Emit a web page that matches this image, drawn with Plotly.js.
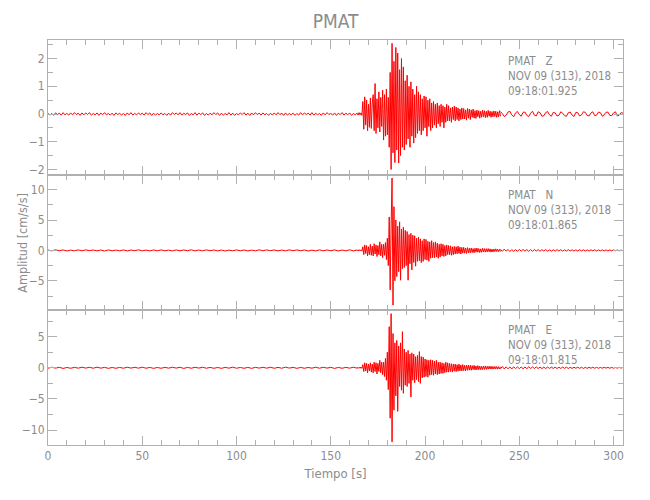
<!DOCTYPE html>
<html>
<head>
<meta charset="utf-8">
<script src="https://cdn.plot.ly/plotly-3.0.1.min.js"></script>
<style>html,body{margin:0;padding:0;background:#fff;}#chart{width:650px;height:500px;}</style>
</head>
<body>
<div id="chart"></div>
<script>
// ---- Data ----
var stationName = 'PMAT';
var components = ['Z', 'N', 'E'];
var dateLabel = 'NOV 09 (313), 2018';
var startTimes = ['09:18:01.925', '09:18:01.865', '09:18:01.815'];

// segment sampling (seconds): quiet / active / tail
var zSteps = [1, 0.5, 1];
var nSteps = [2, 0.5, 1];
var eSteps = [2, 0.5, 1];
var segStarts = [0, 164, 240];

// Z component [cm/s/s]
var zQuiet = [0.03,-0.04,0.02,-0.05,0.04,-0.02,0.03,-0.04,0.05,-0.03,
  0.02,-0.04,0.04,-0.03,0.05,-0.02,0.03,-0.05,0.04,-0.03,
  0.04,-0.02,0.05,-0.04,0.02,-0.03,0.04,-0.05,0.03,-0.02,
  0.05,-0.03,0.02,-0.04,0.03,-0.05,0.04,-0.02,0.03,-0.04,
  0.02,-0.05,0.04,-0.03,0.05,-0.04,0.02,-0.03,0.04,-0.02,
  0.03,-0.04,0.05,-0.02,0.04,-0.05,0.03,-0.04,0.02,-0.03,
  0.04,-0.03,0.02,-0.05,0.03,-0.04,0.05,-0.02,0.04,-0.03,
  0.05,-0.04,0.03,-0.02,0.04,-0.05,0.02,-0.03,0.05,-0.04,
  0.03,-0.02,0.04,-0.05,0.02,-0.04,0.03,-0.03,0.05,-0.02,
  0.04,-0.05,0.03,-0.04,0.02,-0.03,0.05,-0.04,0.03,-0.05,
  0.02,-0.03,0.04,-0.02,0.05,-0.04,0.03,-0.05,0.04,-0.03,
  0.05,-0.02,0.03,-0.04,0.04,-0.03,0.02,-0.05,0.03,-0.04,
  0.04,-0.03,0.05,-0.02,0.03,-0.05,0.04,-0.04,0.02,-0.03,
  0.03,-0.05,0.02,-0.04,0.05,-0.03,0.04,-0.02,0.03,-0.04,
  0.05,-0.04,0.03,-0.03,0.02,-0.05,0.04,-0.03,0.05,-0.02,
  0.02,-0.04,0.04,-0.05,0.03,-0.02,0.05,-0.04,0.03,-0.03,
  0.04,-0.05,0.02,-0.03,0.04];
var zActive = [0.03,-0.04,0.05,-0.03,0.04,-0.05,
  0.45,-0.55,0.62,-0.4,0.5,-0.6,0.35,-0.48,0.58,-0.52,0.4,
  0.7,-0.6,1.1,-0.7,0.55,-0.5,0.8,-0.65,0.6,-0.45,
  0.86,-0.94,0.7,-0.8,0.9,-0.75,0.6,-1.2,
  1.5,-2.0,2.55,-1.4,1.9,-1.75,
  2.4,-1.3,2.2,-1.77,1.6,-1.5,2.0,-1.2,
  1.7,-1.3,1.2,-1.1,1.4,-0.9,1.0,-1.2,
  1.16,-0.8,0.9,-1.05,0.7,-0.85,1.0,-0.7,
  0.8,-0.6,0.7,-0.75,0.55,-0.6,0.65,-0.5,
  0.62,-0.8,0.5,-0.45,0.55,-0.6,0.4,-0.5,
  0.45,-0.4,0.35,-0.5,0.4,-0.35,0.3,-0.45,
  0.35,-0.3,0.3,-0.5,0.25,-0.3,0.35,-0.25,
  0.3,-0.25,0.22,-0.3,0.25,-0.2,0.28,-0.25,
  0.25,-0.2,0.22,-0.25,0.18,-0.2,0.22,-0.18,
  0.2,-0.18,0.15,-0.22,0.2,-0.15,0.18,-0.2,
  0.15,-0.12,0.18,-0.15,0.12,-0.16,0.14,-0.1,
  0.12,-0.15,0.1,-0.12,0.14,-0.1,0.12,-0.13,
  0.1,-0.12,0.13,-0.08,0.1,-0.12,0.09,-0.1,
  0.11,-0.09,0.1,-0.12,0.08,-0.1,0.12,-0.08];
var zTail = [0.08,0.02,-0.09,-0.05,0.07,0.1,-0.03,-0.1,0.04,0.09,-0.02,
  -0.08,0.06,0.07,-0.05,-0.09,0.03,0.1,-0.04,-0.07,0.08,0.05,
  -0.08,-0.06,0.05,0.09,-0.03,-0.08,0.06,0.04,-0.07,-0.05,0.08,
  0.03,-0.06,-0.08,0.05,0.07,-0.04,-0.09,0.06,0.05,-0.07,-0.03,
  0.08,0.06,-0.05,-0.07,0.04,0.08,-0.06,-0.04,0.07,0.05,-0.08,
  -0.03,0.06,0.07,-0.05,-0.06,0.04,0.08,-0.07,-0.04,0.05,0.03];

// N component
var nQuiet = [0.06,-0.08,0.1,-0.05,0.07,-0.09,0.05,-0.07,0.08,-0.06,
  0.09,-0.05,0.07,-0.08,0.06,-0.1,0.08,-0.06,0.05,-0.07,
  0.08,-0.09,0.06,-0.05,0.1,-0.07,0.05,-0.08,0.07,-0.06,
  0.09,-0.07,0.05,-0.09,0.08,-0.06,0.07,-0.05,0.1,-0.08,
  0.06,-0.07,0.09,-0.05,0.07,-0.08,0.06,-0.1,0.05,-0.07,
  0.08,-0.06,0.07,-0.09,0.05,-0.07,0.1,-0.06,0.08,-0.05,
  0.07,-0.08,0.06,-0.07,0.09,-0.05,0.08,-0.06,0.07,-0.1,
  0.05,-0.08,0.09,-0.06,0.07,-0.05,0.08,-0.09,0.06,-0.07,
  0.1,-0.08,0.07];
var nActive = [0.08,-0.1,0.12,-0.08,0.1,-0.12,
  0.6,-0.7,0.9,-0.5,0.8,-0.9,0.6,-0.7,1.0,-0.8,0.7,
  -0.9,1.1,-0.6,0.9,-1.0,0.8,-0.7,1.4,-0.9,1.0,
  -1.2,1.0,-0.8,1.3,-1.5,2.0,-2.5,5.5,
  -6.5,4.0,11.9,-9.0,7.2,-5.0,
  5.0,-4.3,4.0,-3.5,4.7,-4.9,3.5,-3.0,
  3.8,-2.8,3.3,-2.5,3.1,-4.9,2.6,-2.2,
  2.8,-3.2,2.5,-2.0,2.4,-2.6,2.0,-1.8,
  2.2,-1.7,1.9,-2.0,1.6,-1.8,1.9,-1.5,
  1.8,-1.6,1.5,-1.8,1.4,-1.3,1.6,-1.2,
  1.3,-1.2,1.4,-1.1,1.2,-1.3,1.0,-1.1,
  1.1,-0.9,1.0,-1.0,0.8,-0.9,0.9,-0.7,
  0.8,-0.7,0.75,-0.8,0.6,-0.7,0.65,-0.6,
  0.6,-0.55,0.7,-0.5,0.55,-0.6,0.5,-0.45,
  0.5,-0.45,0.4,-0.5,0.45,-0.4,0.35,-0.4,
  0.4,-0.35,0.3,-0.4,0.35,-0.3,0.4,-0.3,
  0.3,-0.35,0.25,-0.3,0.35,-0.25,0.3,-0.28,
  0.28,-0.25,0.3,-0.22,0.25,-0.28,0.2,-0.25,
  0.22,-0.2,0.25,-0.18,0.2,-0.22,0.18,-0.2];
var nTail = [0.18,-0.15,0.2,-0.12,0.16,-0.18,0.14,-0.16,0.12,-0.15,0.17,
  -0.13,0.15,-0.12,0.14,-0.16,0.12,-0.14,0.15,-0.11,0.13,-0.14,
  0.12,-0.1,0.14,-0.12,0.11,-0.13,0.1,-0.12,0.13,-0.1,0.11,
  -0.12,0.1,-0.11,0.12,-0.09,0.1,-0.11,0.09,-0.1,0.11,-0.08,
  0.1,-0.09,0.08,-0.1,0.09,-0.08,0.1,-0.09,0.08,-0.07,0.09,
  -0.08,0.07,-0.09,0.08,-0.07,0.08,-0.06,0.07,-0.08,0.06,-0.07];

// E component
var eQuiet = [-0.07,0.09,-0.06,0.08,-0.1,0.05,-0.08,0.07,-0.06,0.09,
  -0.05,0.08,-0.07,0.1,-0.06,0.07,-0.09,0.05,-0.08,0.06,
  -0.07,0.09,-0.05,0.08,-0.06,0.1,-0.07,0.06,-0.09,0.05,
  -0.08,0.07,-0.06,0.09,-0.05,0.08,-0.1,0.06,-0.07,0.08,
  -0.05,0.09,-0.07,0.06,-0.08,0.05,-0.09,0.07,-0.06,0.1,
  -0.07,0.05,-0.08,0.06,-0.09,0.07,-0.05,0.08,-0.06,0.09,
  -0.08,0.06,-0.07,0.1,-0.05,0.07,-0.09,0.06,-0.08,0.05,
  -0.06,0.09,-0.07,0.08,-0.05,0.07,-0.1,0.06,-0.08,0.07,
  -0.06,0.09,-0.07];
var eActive = [0.08,-0.1,0.1,-0.08,0.12,-0.1,
  0.5,-0.6,0.8,-0.5,0.7,-0.8,0.6,-0.5,0.8,-0.7,0.6,
  -0.8,0.9,-0.6,0.8,-1.0,0.7,-0.6,1.2,-0.8,0.9,
  -1.1,0.9,-1.4,1.5,-2.0,2.5,-3.5,6.6,
  -8.1,8.7,-11.9,5.5,-6.8,4.0,
  -4.5,4.4,-7.0,3.5,-3.0,4.0,-3.6,5.8,
  -4.1,3.0,-2.8,2.5,-3.0,2.8,-2.5,2.2,
  -4.7,2.4,-2.0,2.2,-2.4,1.8,-1.9,2.0,
  -2.2,2.6,-2.5,1.8,-1.6,1.7,-1.5,1.4,
  -1.4,1.3,-1.5,1.2,-1.2,1.3,-1.1,1.2,
  -1.2,1.1,-1.0,1.2,-1.1,0.9,-1.0,0.9,
  -0.9,0.8,-0.9,0.7,-0.8,0.9,-0.7,0.8,
  -0.7,0.7,-0.6,0.65,-0.7,0.6,-0.55,0.6,
  -0.6,0.5,-0.55,0.6,-0.5,0.45,-0.5,0.5,
  -0.45,0.4,-0.5,0.42,-0.4,0.45,-0.38,0.4,
  -0.4,0.35,-0.3,0.38,-0.35,0.3,-0.32,0.35,
  -0.3,0.28,-0.32,0.25,-0.3,0.27,-0.25,0.3,
  -0.26,0.24,-0.22,0.25,-0.2,0.24,-0.22,0.2,
  -0.2,0.22,-0.18,0.2,-0.22,0.18,-0.2,0.16];
var eTail = [-0.16,0.2,-0.18,0.15,-0.17,0.14,-0.19,0.16,-0.13,0.15,-0.14,
  0.13,-0.15,0.12,-0.14,0.16,-0.12,0.13,-0.11,0.14,-0.12,0.11,
  -0.13,0.1,-0.12,0.11,-0.1,0.12,-0.11,0.1,-0.12,0.09,-0.1,
  0.11,-0.09,0.1,-0.11,0.08,-0.1,0.09,-0.08,0.1,-0.09,0.08,
  -0.1,0.07,-0.09,0.08,-0.07,0.09,-0.08,0.07,-0.08,0.06,-0.07,
  0.08,-0.06,0.07,-0.08,0.06,-0.07,0.05,-0.06,0.07,-0.05,0.06];

var yRanges = [[-2.2, 2.67], [-9.8, 12.4], [-12.4, 9.28]];
var yTicks = [[-2, -1, 0, 1, 2], [-5, 0, 5, 10], [-10, -5, 0, 5]];
var yMinorStep = [0.5, 2.5, 2.5];
var xRange = [0, 305];

// ---- Build figure ----
var FONT = 'DejaVu Sans Condensed, Liberation Sans Narrow, sans-serif';
var GRAY = '#8c8c8c';
var AXC = '#b0b0b0';
var RED = '#ff0000';

var series = [[zQuiet, zActive, zTail], [nQuiet, nActive, nTail], [eQuiet, eActive, eTail]];
var steps = [zSteps, nSteps, eSteps];

var traces = [];
series.forEach(function (segs, k) {
  var sfx = k === 0 ? '' : String(k + 1);
  segs.forEach(function (vals, s) {
    traces.push({
      type: 'scatter', mode: 'lines',
      x0: segStarts[s], dx: steps[k][s], y: vals,
      xaxis: 'x' + sfx, yaxis: 'y' + sfx,
      line: {color: RED, width: 1},
      hoverinfo: 'skip', showlegend: false
    });
  });
});

function xAxis(anchor, labels) {
  var a = {
    domain: [0, 1], anchor: anchor, range: xRange,
    showline: true, linecolor: AXC, linewidth: 1, mirror: 'allticks',
    ticks: 'inside', ticklen: 9, tickcolor: AXC, tickwidth: 1,
    tick0: 0, dtick: 50,
    minor: {ticks: 'inside', dtick: 10, ticklen: 5, tickcolor: AXC, showgrid: false},
    showgrid: false, zeroline: false, showticklabels: labels,
    tickfont: {family: FONT, size: 12, color: GRAY}
  };
  if (labels) {
    a.title = {text: 'Tiempo [s]', font: {family: FONT, size: 13, color: GRAY}, standoff: 6};
  }
  return a;
}
function yAxis(k, anchor) {
  var doms = [[2/3, 1], [1/3, 2/3], [0, 1/3]];
  return {
    domain: doms[k], anchor: anchor, range: yRanges[k],
    showline: true, linecolor: AXC, linewidth: 1, mirror: 'allticks',
    ticks: 'inside', ticklen: 9, tickcolor: AXC, tickwidth: 1,
    tickmode: 'array', tickvals: yTicks[k],
    minor: {ticks: 'inside', dtick: yMinorStep[k], tick0: 0, ticklen: 5, tickcolor: AXC, showgrid: false},
    showgrid: false, zeroline: false,
    tickfont: {family: FONT, size: 12, color: GRAY}, ticklabelstandoff: 0
  };
}

var annFont = {family: FONT, size: 11.5, color: GRAY};
var NB = '\u00A0';
var annY = [0.9123, 0.5802, 0.2462];
var annotations = [];
components.forEach(function (c, k) {
  var txt = stationName + NB + NB + NB + c + '<br>' + dateLabel + '<br>' + startTimes[k];
  annotations.push({
    xref: 'paper', yref: 'paper', x: 0.7965, y: annY[k],
    xanchor: 'left', yanchor: 'middle', align: 'left', text: txt, showarrow: false, font: annFont
  });
});
annotations.push({
  xref: 'paper', yref: 'paper', x: -0.045, y: 0.5, xanchor: 'center', yanchor: 'middle',
  text: 'Amplitud [cm/s/s]', textangle: -90, showarrow: false,
  font: {family: FONT, size: 12.5, color: GRAY}
});

var layout = {
  width: 650, height: 500,
  margin: {l: 48, r: 27, t: 40, b: 55},
  paper_bgcolor: '#fff', plot_bgcolor: '#fff',
  title: {text: stationName, x: 0.5, xref: 'paper', y: 0.958, yref: 'container', yanchor: 'middle',
    font: {family: FONT, size: 19, color: GRAY}},
  xaxis: xAxis('y', false),
  xaxis2: xAxis('y2', false),
  xaxis3: xAxis('y3', true),
  yaxis: yAxis(0, 'x'),
  yaxis2: yAxis(1, 'x2'),
  yaxis3: yAxis(2, 'x3'),
  annotations: annotations,
  showlegend: false
};
layout.xaxis2.matches = 'x';
layout.xaxis3.matches = 'x';

Plotly.newPlot('chart', traces, layout, {displayModeBar: false, staticPlot: true});
</script>
</body>
</html>
